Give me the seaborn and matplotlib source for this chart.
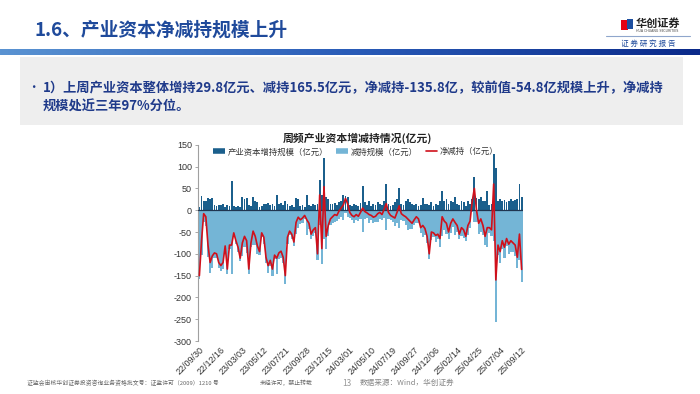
import numpy as np
import matplotlib
matplotlib.use('Agg')
import matplotlib.pyplot as plt
import seaborn as sns
from matplotlib.colors import LinearSegmentedColormap
from matplotlib.patches import Rectangle
from matplotlib.lines import Line2D

# 周频数据：产业资本增持 / 减持（亿元），净减持 = 增持 + 减持
zengchi = [8, 32, 20, 22, 27, 25, 28, 12, 10, 13,
           12, 15, 8, 12, 10, 66, 10, 8, 10, 7,
           31, 25, 28, 12, 10, 31, 20, 18, 8, 10,
           15, 14, 16, 12, 15, 10, 36, 14, 16, 12,
           20, 15, 10, 12, 8, 27, 25, 10, 12, 8,
           35, 12, 10, 14, 12, 15, 70, 35, 119, 30,
           25, 15, 14, 16, 12, 18, 20, 35, 33, 30,
           12, 10, 14, 12, 10, 16, 55, 18, 12, 20,
           10, 14, 12, 18, 15, 12, 20, 60, 15, 10,
           12, 18, 25, 50, 15, 12, 20, 25, 18, 14,
           12, 15, 10, 12, 27, 14, 15, 12, 18, 10,
           14, 12, 20, 45, 20, 25, 15, 22, 18, 30,
           15, 12, 20, 18, 10, 22, 15, 25, 76, 28,
           25, 30, 22, 20, 45, 12, 15, 130, 96, 22,
           25, 20, 24, 18, 22, 25, 20, 24, 25, 60, 29.8]
jianchi = [-158, -102, -28, -37, -107, -145, -133, -110, -110, -133,
           -139, -135, -90, -147, -90, -146, -62, -78, -95, -117,
           -106, -85, -98, -147, -85, -79, -80, -100, -103, -62,
           -77, -122, -143, -127, -150, -113, -146, -112, -110, -120,
           -170, -77, -58, -67, -81, -55, -41, -32, -30, -20,
           -57, -42, -65, -59, -52, -115, -35, -123, -65, -90,
           -60, -35, -29, -26, -24, -20, -15, -23, -6, -15,
           -17, -22, -29, -22, -24, -21, -50, -21, -18, -30,
           -22, -30, -26, -26, -20, -22, -18, -45, -20, -22,
           -27, -36, -30, -40, -23, -24, -35, -45, -43, -44,
           -34, -30, -30, -52, -62, -56, -75, -112, -68, -62,
           -72, -67, -85, -60, -45, -55, -65, -52, -38, -58,
           -50, -67, -60, -63, -70, -57, -40, -5, -26, -28,
           -55, -50, -57, -80, -85, -52, -60, -70, -256, -102,
           -120, -90, -109, -83, -100, -95, -95, -104, -133, -114.8, -165.5]
tick_labels = ['22/09/30', '22/12/16', '23/03/03', '23/05/12', '23/07/21', '23/09/28',
               '23/12/15', '24/03/01', '24/05/10', '24/07/19', '24/09/27', '24/12/06',
               '25/02/14', '25/04/25', '25/07/04', '25/09/12']

zengchi = np.array(zengchi)
jianchi = np.array(jianchi)
jingjianchi = zengchi + jianchi
tydzien = np.arange(len(zengchi))

sns.set_style('white')
plt.rcParams['font.family'] = ['Noto Sans CJK SC', 'DejaVu Sans']
plt.rcParams['axes.unicode_minus'] = False

c_dark = '#1B5F8C'
c_light = '#74B5D6'
c_red = '#D0101B'
c_title = '#1F4A9B'

fig = plt.figure(figsize=(7, 3.94), dpi=100)

def fx(px):
    return px / 700

def fy(py):
    return 1 - py / 394

# naglowek
fig.text(fx(35), fy(30), '1.6、产业资本净减持规模上升', fontsize=13.5, fontweight='bold',
         color=c_title, va='center', ha='left')
gax = fig.add_axes([0, fy(55), 1, 6 / 394])
gax.imshow(np.linspace(0, 1, 256)[None, :],
           cmap=LinearSegmentedColormap.from_list('g', ['#5A93D2', '#2A5CB8', '#0B2A8A']),
           aspect='auto')
gax.axis('off')

# logo
fig.patches.append(Rectangle((fx(621), fy(30)), fx(7), 10 / 394, transform=fig.transFigure,
                             facecolor='#E60012', edgecolor='none'))
fig.patches.append(Rectangle((fx(627), fy(29)), fx(6), 10 / 394, transform=fig.transFigure,
                             facecolor='#1D4FA0', edgecolor='none'))
fig.text(fx(636), fy(23), '华创证券', fontsize=8, fontweight='bold', color='#222222', va='center')
fig.text(fx(636), fy(31), 'HUA CHUANG SECURITIES', fontsize=2.3, color='#444444', va='center',
         family=['DejaVu Sans'])
fig.add_artist(Line2D([fx(606), fx(690)], [fy(36), fy(36)], transform=fig.transFigure,
                      color='#8FA6CC', lw=0.8))
fig.text(fx(648), fy(44), '证 券 研 究 报 告', fontsize=5.5, color=c_title, ha='center', va='center')

# szary blok z opisem
fig.patches.append(Rectangle((fx(20), fy(125)), fx(663), 68 / 394, transform=fig.transFigure,
                             facecolor='#EEEEEE', edgecolor='none'))
fig.text(fx(27), fy(88), '•', fontsize=9, color='#1F3A8A', va='center')
fig.text(fx(43), fy(88), '1）上周产业资本整体增持29.8亿元、减持165.5亿元，净减持-135.8亿，较前值-54.8亿规模上升，净减持',
         fontsize=9.5, fontweight='bold', color='#1F3A8A', va='center')
fig.text(fx(43), fy(107), '规模处近三年97%分位。', fontsize=9.5, fontweight='bold',
         color='#1F3A8A', va='center')

# wykres
fig.text(fx(357), fy(138), '周频产业资本增减持情况(亿元)', fontsize=7.8, fontweight='bold',
         color='#222222', ha='center', va='center')

ax = fig.add_axes([0.283, 0.1345, 0.464, 0.498])
sns.barplot(x=tydzien, y=jianchi, color=c_light, saturation=1, width=1.0, errorbar=None,
            linewidth=0, ax=ax)
sns.barplot(x=tydzien, y=zengchi, color=c_dark, saturation=1, width=0.85, errorbar=None,
            linewidth=0, ax=ax)
ax.axhline(0, color='#1F3550', lw=0.9, zorder=3)
sns.lineplot(x=tydzien, y=jingjianchi, color=c_red, lw=1.2, ax=ax, zorder=4)

ax.set_xlim(-0.6, len(tydzien) - 0.4)
ax.set_ylim(-300, 150)
ax.set_yticks(np.arange(-300, 151, 50))
ax.set_xticks(np.arange(0, len(tydzien), 10))
ax.set_xticklabels(tick_labels, rotation=45, ha='right', rotation_mode='anchor',
                   fontsize=6.5, color='#333333', family=['Liberation Sans'])
for t in ax.get_yticklabels():
    t.set_fontsize(6.5)
    t.set_family(['Liberation Sans'])
    t.set_color('#333333')
ax.tick_params(axis='y', length=2.5, width=0.6, color='#999999', pad=2, left=True)
ax.tick_params(axis='x', length=0, pad=3)
ax.set_xlabel('')
ax.set_ylabel('')
for s in ['top', 'right', 'bottom']:
    ax.spines[s].set_visible(False)
ax.spines['left'].set_color('#A0A0A0')
ax.spines['left'].set_linewidth(0.8)

uchwyty = [Line2D([0], [0], color=c_dark, lw=4, solid_capstyle='butt'),
           Line2D([0], [0], color=c_light, lw=4, solid_capstyle='butt'),
           Line2D([0], [0], color=c_red, lw=1.2)]
ax.legend(uchwyty, ['产业资本增持规模（亿元）', '减持规模（亿元）', '净减持（亿元）'],
          loc='center', bbox_to_anchor=(0.486, 0.964), ncol=3, frameon=False,
          fontsize=6, handlelength=1.4, handletextpad=0.3, columnspacing=1.0,
          labelcolor='#333333')

# stopka
fig.text(fx(27), fy(383), '证监会审核华创证券投资咨询业务资格批文号：证监许可（2009）1210 号',
         fontsize=4.2, color='#666666', va='center')
fig.text(fx(260), fy(383), '未经许可，禁止转载', fontsize=4.2, color='#666666', va='center')
fig.text(fx(342), fy(383), '13', fontsize=6, color='#999999', va='center')
fig.text(fx(360), fy(383), '数据来源：Wind，华创证券', fontsize=5.5, color='#888888', va='center')

fig.savefig('out.png', dpi=100)
